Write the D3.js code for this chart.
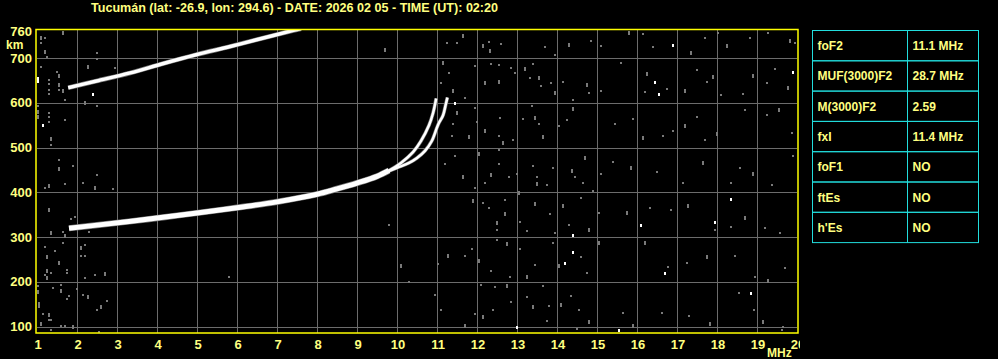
<!DOCTYPE html>
<html>
<head>
<meta charset="utf-8">
<script src="https://cdn.jsdelivr.net/npm/d3@7"></script>
<style>
  html, body { margin: 0; padding: 0; background: #000; }
  svg { display: block; }
  text { font-family: 'Liberation Sans', Arial, sans-serif; font-weight: bold; }
</style>
</head>
<body>
<div id="graph"></div>
<script>
const title = 'Tucum\u00e1n (lat: -26.9, lon: 294.6) - DATE: 2026 02 05 - TIME (UT): 02:20';

const xTicks = [1, 2, 3, 4, 5, 6, 7, 8, 9, 10, 11, 12, 13, 14, 15, 16, 17, 18, 19, 20];
const yTicks = [100, 200, 300, 400, 500, 600, 700];
const yTopLabel = 760;

const paramNames = ['foF2', 'MUF(3000)F2', 'M(3000)F2', 'fxI', 'foF1', 'ftEs', "h'Es"];
const paramValues = ['11.1 MHz', '28.7 MHz', '2.59', '11.4 MHz', 'NO', 'NO', 'NO'];

// traces [MHz, km]
const oTraceLow = [[1.8, 320], [2.5, 327], [3.3, 335], [4.2, 345], [5, 354], [6, 366], [7, 379],
  [8, 396], [8.5, 408], [9, 421], [9.5, 436], [9.8, 449]];
const oTraceHigh = [[9.6, 441], [9.8, 449], [10.1, 466], [10.4, 490], [10.6, 515], [10.8, 550],
  [10.9, 577], [10.98, 610]];
const xTrace = [[9.6, 441], [10.0, 455], [10.3, 466], [10.5, 477], [10.7, 493], [10.87, 515],
  [11.03, 552], [11.15, 572], [11.22, 597], [11.26, 612]];
const hopTrace = [[1.78, 634], [2.49, 649], [3.33, 667], [4.16, 688], [5.0, 708], [5.83, 726],
  [6.66, 745], [7.41, 762], [7.6, 766]];

// scattered echoes
const noiseGray = [
  [11.65, 751], [11.25, 734], [11.5, 734], [12.16, 729], [12.29, 737], [12.59, 731], [12.33, 719],
  [13.7, 725], [13.95, 707], [14.3, 731], [14.84, 738], [15.1, 727], [11.16, 692], [11.31, 666],
  [11.09, 645], [11.41, 629], [11.7, 610], [11.95, 682], [12.2, 647], [12.35, 688], [12.55, 685],
  [12.55, 649], [12.84, 679], [12.95, 666], [13.2, 677], [13.33, 655], [13.41, 688], [13.56, 658],
  [13.6, 638], [13.85, 644], [13.95, 625], [14.16, 647], [14.41, 606], [14.75, 642], [14.8, 623],
  [15.1, 627], [11.51, 580], [11.41, 553], [11.37, 526], [11.79, 525], [11.95, 589], [11.99, 558],
  [12.2, 540], [12.58, 566], [12.55, 525], [12.66, 513], [12.91, 518], [13.16, 565], [13.45, 569],
  [13.37, 593], [13.54, 553], [13.66, 526], [14.04, 548], [14.24, 562], [14.41, 588], [11.45, 481],
  [11.2, 464], [11.66, 437], [11.95, 409], [12.2, 420], [12.06, 487], [12.55, 495], [12.55, 464],
  [12.35, 441], [12.79, 434], [13.0, 441], [13.06, 402], [13.41, 459], [13.49, 435], [13.49, 420],
  [13.74, 417], [13.91, 455], [14.37, 450], [14.45, 435], [14.64, 422], [14.7, 480], [14.9, 403],
  [15.1, 441], [11.91, 383], [12.14, 377], [12.29, 365], [12.51, 335], [12.51, 316], [12.7, 383],
  [12.7, 353], [13.08, 333], [13.24, 313], [13.45, 377], [13.83, 351], [13.95, 309], [14.15, 372],
  [14.3, 328], [14.6, 388], [14.8, 318], [15.04, 353], [11.03, 240], [11.28, 260], [11.7, 259],
  [11.87, 273], [12.06, 249], [12.35, 225], [12.51, 294], [12.74, 288], [12.83, 210], [13.08, 273],
  [13.24, 214], [13.45, 238], [13.89, 288], [14.06, 238], [14.6, 255], [14.74, 220], [15.04, 290],
  [10.95, 171], [11.09, 138], [11.7, 104], [11.95, 129], [12.09, 193], [12.14, 124], [12.45, 188],
  [12.41, 138], [12.74, 193], [12.84, 156], [13.24, 166], [13.41, 147], [13.64, 190], [13.81, 147],
  [14.1, 151], [14.34, 169], [14.56, 138], [14.79, 112], [14.49, 95], [13.74, 112],
  [15.81, 759], [16.14, 754], [16.41, 725], [17.34, 714], [17.7, 746], [18.03, 757], [18.24, 729],
  [18.83, 746], [19.28, 757], [19.83, 740], [19.95, 733], [15.59, 690], [16.24, 666], [16.2, 625],
  [16.74, 632], [17.2, 629], [17.49, 673], [17.74, 647], [17.91, 660], [18.09, 618], [18.64, 620],
  [18.89, 662], [19.24, 644], [19.45, 675], [19.78, 636], [15.45, 553], [15.89, 565], [16.16, 523],
  [16.64, 525], [16.91, 538], [17.2, 551], [17.49, 569], [17.7, 517], [17.99, 532], [18.7, 584],
  [19.24, 573], [19.55, 586], [19.87, 532], [15.41, 469], [15.84, 456], [16.49, 446], [17.16, 420],
  [17.66, 467], [18.34, 420], [18.58, 454], [18.89, 444], [19.37, 417], [19.89, 481], [15.74, 357],
  [16.33, 365], [16.84, 361], [17.28, 372], [17.95, 316], [18.34, 322], [18.7, 346], [19.2, 320],
  [19.58, 310], [16.2, 290], [16.78, 234], [17.26, 243], [17.74, 257], [18.45, 257], [18.95, 211],
  [19.28, 205], [19.7, 231], [15.66, 130], [15.91, 104], [16.62, 130], [17.31, 123], [17.83, 108],
  [18.56, 175], [18.93, 138], [19.14, 112], [19.64, 100], [19.62, 93],
  [1.09, 748], [1.2, 746], [1.09, 734], [1.2, 716], [1.24, 703], [1.09, 681], [1.64, 759],
  [2.49, 712], [2.49, 697], [2.28, 682], [2.95, 677], [1.49, 670], [1.55, 662], [1.3, 651],
  [1.3, 642], [1.55, 642], [1.3, 629], [1.55, 629], [1.64, 629], [1.3, 620], [1.7, 606],
  [2.2, 603], [2.49, 593], [1.03, 593], [1.03, 583], [1.3, 578], [1.3, 568], [1.03, 571],
  [1.7, 562], [1.3, 558], [1.34, 522], [1.34, 506], [1.55, 472], [1.55, 455], [1.89, 460],
  [2.49, 438], [1.3, 417], [1.7, 418], [2.14, 422], [2.45, 413], [1.2, 409], [2.89, 407],
  [1.3, 363], [1.84, 341], [1.95, 345], [1.35, 311], [1.64, 311], [2.3, 311], [1.7, 305],
  [1.2, 279], [1.45, 270], [2.09, 279], [2.2, 283], [1.64, 288], [1.24, 257], [2.09, 257],
  [2.2, 257], [1.55, 244], [1.74, 226], [1.74, 220], [1.24, 226], [1.34, 221], [1.2, 216],
  [1.24, 212], [2.2, 208], [2.45, 216], [2.7, 221], [5.8, 212], [9.8, 328], [10.09, 238],
  [10.29, 199], [1.03, 192], [1.03, 179], [1.39, 186], [1.6, 194], [1.6, 181], [1.99, 184],
  [2.14, 171], [2.28, 169], [1.81, 169], [1.74, 162], [1.06, 153], [1.06, 145], [2.76, 157],
  [2.59, 147], [2.49, 138], [1.14, 129], [1.3, 129], [1.3, 116], [1.34, 116], [1.09, 108],
  [1.59, 102], [1.7, 101], [1.89, 102], [1.35, 93], [2.55, 89], [9.7, 720]
];
const noiseWhite = [
  [14.41, 305], [14.2, 243], [14.39, 268], [13.0, 100], [16.89, 729], [16.45, 647], [16.56, 620],
  [19.89, 670], [18.34, 385], [16.09, 327], [17.95, 333], [16.7, 221], [18.84, 176], [15.55, 93],
  [2.39, 620], [1.14, 551], [1.02, 655], [1.02, 650], [11.45, 600]
];

const W = 998, H = 359;

const svg = d3.select('#graph')
  .append('svg')
  .attr('width', W)
  .attr('height', H);

svg.append('rect')
  .attr('width', W)
  .attr('height', H)
  .attr('fill', '#000');

const xScale = d3.scaleLinear().domain([1, 20]).range([37, 797]);
const yScale = d3.scaleLinear().domain([86, 764]).range([333, 29.5]);

const txtColor = '#ffff80';

svg.append('text')
  .attr('x', 91)
  .attr('y', 12)
  .attr('fill', txtColor)
  .attr('font-size', 12)
  .attr('textLength', 407)
  .attr('lengthAdjust', 'spacingAndGlyphs')
  .text(title);

svg.append('clipPath')
  .attr('id', 'plotclip')
  .append('rect')
  .attr('x', xScale(1))
  .attr('y', yScale(764))
  .attr('width', xScale(20) - xScale(1))
  .attr('height', yScale(86) - yScale(764));

const plot = svg.append('g').attr('clip-path', 'url(#plotclip)');

// grid
plot.selectAll('.vgrid')
  .data(xTicks.slice(1, -1))
  .enter()
  .append('line')
  .attr('class', 'vgrid')
  .attr('x1', d => Math.round(xScale(d)) + 0.5)
  .attr('x2', d => Math.round(xScale(d)) + 0.5)
  .attr('y1', yScale(764))
  .attr('y2', yScale(86))
  .attr('stroke', '#6c6c6c')
  .attr('stroke-width', 1);

plot.selectAll('.hgrid')
  .data(yTicks)
  .enter()
  .append('line')
  .attr('class', 'hgrid')
  .attr('x1', xScale(1))
  .attr('x2', xScale(20))
  .attr('y1', d => Math.round(yScale(d)) + 0.5)
  .attr('y2', d => Math.round(yScale(d)) + 0.5)
  .attr('stroke', '#6c6c6c')
  .attr('stroke-width', 1);

// noise
plot.selectAll('.ng')
  .data(noiseGray)
  .enter()
  .append('rect')
  .attr('class', 'ng')
  .attr('x', d => Math.round(xScale(d[0])) - 1)
  .attr('y', d => Math.round(yScale(d[1])) - 1)
  .attr('width', 2)
  .attr('height', (d, i) => i % 3 === 0 ? 4 : 2)
  .attr('fill', '#7a7a7a');

plot.selectAll('.nw')
  .data(noiseWhite)
  .enter()
  .append('rect')
  .attr('class', 'nw')
  .attr('x', d => Math.round(xScale(d[0])) - 1)
  .attr('y', d => Math.round(yScale(d[1])) - 1)
  .attr('width', 2)
  .attr('height', 3)
  .attr('fill', '#ffffff');

// traces
const line = d3.line()
  .x(d => xScale(d[0]))
  .y(d => yScale(d[1]))
  .curve(d3.curveCatmullRom);

const traces = [
  { pts: hopTrace, w: 3.5 },
  { pts: oTraceLow, w: 5 },
  { pts: oTraceHigh, w: 2.5 },
  { pts: xTrace, w: 2.5 }
];

plot.selectAll('.halo')
  .data(traces)
  .enter()
  .append('path')
  .attr('d', d => line(d.pts))
  .attr('fill', 'none')
  .attr('stroke', '#777')
  .attr('stroke-width', d => d.w + 1.2)
  .attr('stroke-linecap', 'butt');

plot.selectAll('.trace')
  .data(traces)
  .enter()
  .append('path')
  .attr('d', d => line(d.pts))
  .attr('fill', 'none')
  .attr('stroke', '#ffffff')
  .attr('stroke-width', d => d.w)
  .attr('stroke-linecap', 'butt');

// frame
svg.append('rect')
  .attr('x', xScale(1) - 1)
  .attr('y', yScale(764))
  .attr('width', xScale(20) - xScale(1) + 2)
  .attr('height', yScale(86) - yScale(764))
  .attr('fill', 'none')
  .attr('stroke', '#ffff00')
  .attr('stroke-width', 1.5);

// axis labels
svg.selectAll('.ylab')
  .data(yTicks.concat([yTopLabel]))
  .enter()
  .append('text')
  .attr('x', 32)
  .attr('y', d => yScale(d) + 4.5)
  .attr('text-anchor', 'end')
  .attr('fill', txtColor)
  .attr('font-size', 13)
  .text(d => d);

svg.append('text')
  .attr('x', 6)
  .attr('y', 49)
  .attr('fill', txtColor)
  .attr('font-size', 12)
  .text('km');

svg.append('clipPath')
  .attr('id', 'xlabclip')
  .append('rect')
  .attr('x', 0)
  .attr('y', 0)
  .attr('width', xScale(20) + 3)
  .attr('height', H);

svg.append('g')
  .attr('clip-path', 'url(#xlabclip)')
  .selectAll('.xlab')
  .data(xTicks)
  .enter()
  .append('text')
  .attr('x', d => xScale(d) + 1)
  .attr('y', 349)
  .attr('text-anchor', 'middle')
  .attr('fill', txtColor)
  .attr('font-size', 13)
  .text(d => d);

svg.append('text')
  .attr('x', 767)
  .attr('y', 357)
  .attr('fill', txtColor)
  .attr('font-size', 12)
  .text('MHz');

// parameter table
const tX = 812, tW = 166, tDiv = 907, tY = 30.5, rowH = 30.3;

const table = svg.append('g');

table.selectAll('.row')
  .data(paramNames)
  .enter()
  .append('rect')
  .attr('x', tX + 0.5)
  .attr('y', (d, i) => tY + i * rowH)
  .attr('width', tW)
  .attr('height', rowH)
  .attr('fill', 'none')
  .attr('stroke', '#22dddd')
  .attr('stroke-width', 1);

table.append('line')
  .attr('x1', tDiv + 0.5)
  .attr('x2', tDiv + 0.5)
  .attr('y1', tY)
  .attr('y2', tY + rowH * paramNames.length)
  .attr('stroke', '#22dddd');

table.selectAll('.pname')
  .data(paramNames)
  .enter()
  .append('text')
  .attr('x', tX + 5.5)
  .attr('y', (d, i) => tY + i * rowH + rowH / 2 + 4.5)
  .attr('fill', txtColor)
  .attr('font-size', 12)
  .text(d => d);

table.selectAll('.pval')
  .data(paramValues)
  .enter()
  .append('text')
  .attr('x', tDiv + 5.5)
  .attr('y', (d, i) => tY + i * rowH + rowH / 2 + 4.5)
  .attr('fill', txtColor)
  .attr('font-size', 12)
  .text(d => d);
</script>
</body>
</html>
